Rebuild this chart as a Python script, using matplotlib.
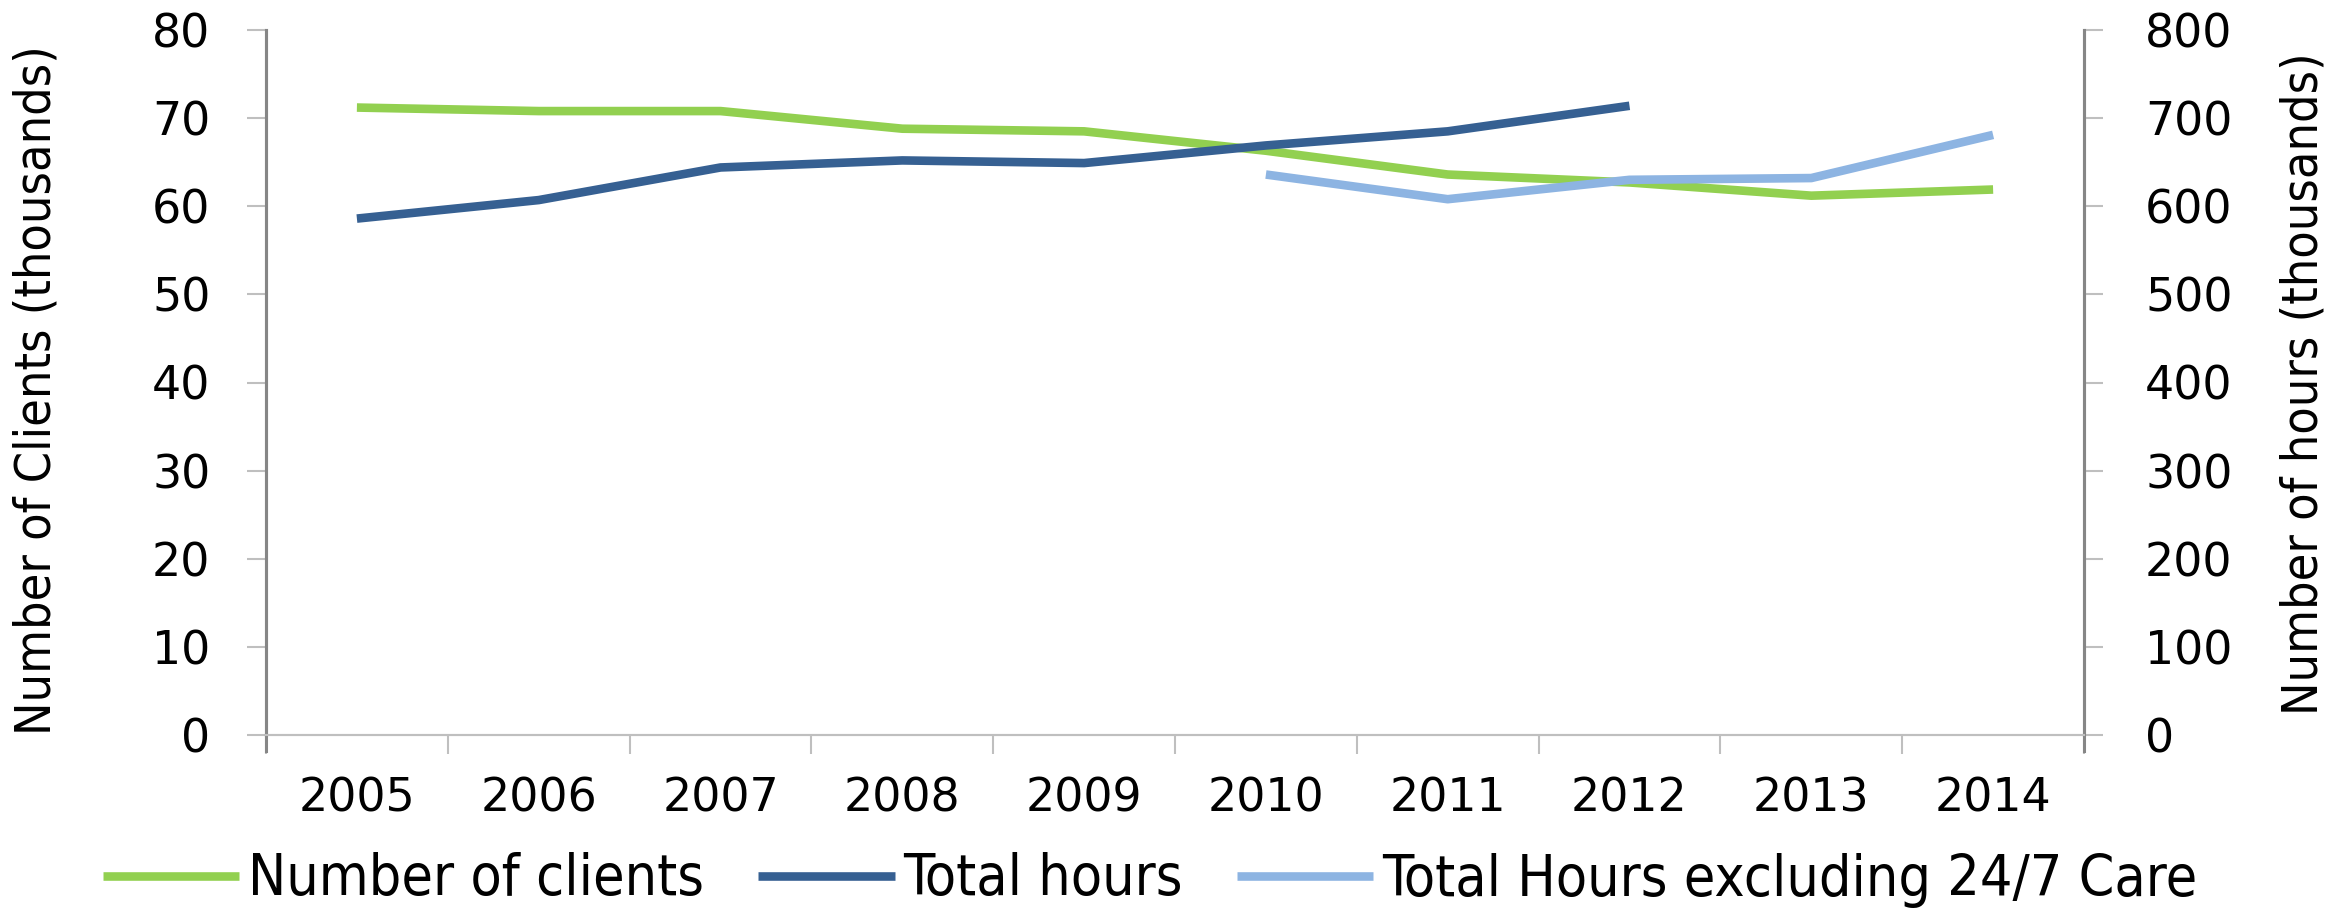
import matplotlib
matplotlib.use("Agg")
import matplotlib.pyplot as plt
from matplotlib import font_manager

# data
years = ["2005", "2006", "2007", "2008", "2009", "2010", "2011", "2012", "2013", "2014"]
clients = [71.2, 70.8, 70.8, 68.8, 68.5, 66.3, 63.6, 62.7, 61.2, 61.9]   # thousands
total_hours = [586, 607, 644, 652, 649, 669, 685, 714]                  # 2005-2012
hours_excl = [636, 608, 630, 632, 681]                                  # 2010-2014

green = "#92d050"
dark_blue = "#366092"
light_blue = "#8db4e2"

# look for a plain condensed face for the labels (Calibri-ish look)
fonts = font_manager.fontManager.ttflist
cond = [f for f in fonts if f.name == "DejaVu Sans"
        and "Condensed" in f.fname and "Bold" not in f.fname and "Oblique" not in f.fname]
if cond:
    label_font = font_manager.FontProperties(fname=cond[0].fname)
else:
    label_font = font_manager.FontProperties(family="Liberation Sans")

W, H = 2343, 916
fig = plt.figure(figsize=(W / 100, H / 100), dpi=100)
ax = fig.add_axes([266 / W, 1 - 735 / H, (2084 - 266) / W, (735 - 30) / H])
ax2 = ax.twinx()

x = list(range(len(years)))
l1, = ax.plot(x, clients, color=green, lw=6.2, solid_capstyle="butt")
l2, = ax2.plot(x[:len(total_hours)], total_hours, color=dark_blue, lw=6.2, solid_capstyle="butt")
l3, = ax2.plot(x[5:], hours_excl, color=light_blue, lw=6.2, solid_capstyle="butt")

ax.set_xlim(-0.5, 9.5)
ax.set_ylim(0, 80)
ax2.set_ylim(0, 800)
ax.set_yticks(range(0, 81, 10))
ax2.set_yticks(range(0, 801, 100))

ax.set_xticks(x)
ax.set_xticklabels(years)
ax.set_xticks([i - 0.5 for i in range(11)], minor=True)
ax.tick_params(axis="x", which="major", length=0, pad=30, labelsize=33)
ax.tick_params(axis="x", which="minor", length=14, width=1.5, color="#bfbfbf")
ax.tick_params(axis="y", length=14, width=1.5, color="#bfbfbf", pad=26, labelsize=33)
ax2.tick_params(axis="y", length=14, width=1.5, color="#bfbfbf", pad=30, labelsize=33)
for lab in ax2.get_yticklabels():
    lab.set_horizontalalignment("left")

for a in (ax, ax2):
    a.spines["top"].set_visible(False)
    a.spines["left"].set_color("#868686")
    a.spines["left"].set_linewidth(2.2)
    a.spines["right"].set_color("#868686")
    a.spines["right"].set_linewidth(2.2)
    a.spines["bottom"].set_color("#bfbfbf")
    a.spines["bottom"].set_linewidth(1.5)
ax.spines["left"].set_bounds(-1.8, 80)
ax2.spines["right"].set_bounds(-18, 800)

fig.text(37 / W, 1 - 390 / H, "Number of Clients (thousands)", rotation=90,
         ha="center", va="center", fontproperties=label_font, fontsize=36)
fig.text(2304 / W, 1 - 384 / H, "Number of hours (thousands)", rotation=90,
         ha="center", va="center", fontproperties=label_font, fontsize=36)

leg_font = label_font.copy()
leg_font.set_size(41)
fig.legend([l1, l2, l3], ["Number of clients", "Total hours", "Total Hours excluding 24/7 Care"],
           loc="center", bbox_to_anchor=(1150 / W, 1 - 880 / H), ncol=3, frameon=False,
           prop=leg_font, handlelength=2.4, handletextpad=0.15,
           columnspacing=0.95, borderpad=0, borderaxespad=0)

fig.savefig("out.png", dpi=100)
